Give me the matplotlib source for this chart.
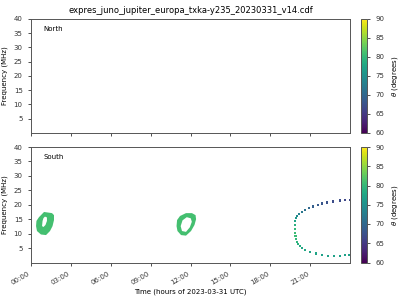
import numpy as np
import matplotlib
matplotlib.use('Agg')
import matplotlib.pyplot as plt
from matplotlib.path import Path
from matplotlib.patches import PathPatch
from matplotlib.colors import Normalize
import matplotlib.cm as cm

title = 'expres_juno_jupiter_europa_txka-y235_20230331_v14.cdf'
tick_hours = [0, 3, 6, 9, 12, 15, 18, 21]
tick_labels = ['00:00', '03:00', '06:00', '09:00', '12:00', '15:00', '18:00', '21:00']
freq_ticks = [5, 10, 15, 20, 25, 30, 35, 40]
cbar_ticks = [60, 65, 70, 75, 80, 85, 90]

#south emission ovals (hours, MHz), outer edge and hole
oval1_outer_t = [0.98, 1.28, 1.58, 1.73, 1.73, 1.62, 1.43, 1.13, 0.75, 0.45, 0.38, 0.41, 0.60, 0.75]
oval1_outer_f = [17.5, 17.3, 17.1, 16.4, 14.7, 12.6, 10.9, 9.5, 9.7, 10.9, 12.6, 14.4, 15.7, 16.4]
oval1_inner_t = [1.05, 1.20, 1.20, 1.09, 0.94, 0.83, 0.87, 0.94]
oval1_inner_f = [15.9, 15.6, 14.4, 13.0, 12.3, 12.6, 14.4, 15.4]
oval2_outer_t = [11.66, 12.11, 12.38, 12.42, 12.30, 12.04, 11.66, 11.29, 11.02, 10.95, 10.99, 11.21]
oval2_outer_f = [17.1, 17.1, 16.4, 15.0, 13.0, 10.9, 9.3, 9.5, 10.9, 12.6, 14.7, 16.1]
oval2_inner_t = [11.72, 12.02, 12.10, 11.95, 11.66, 11.36, 11.26, 11.40]
oval2_inner_f = [15.7, 15.3, 14.1, 12.2, 10.6, 10.9, 12.6, 14.6]
oval_theta = 81.0

#arc at end of day
arc_t = [24.0, 23.63, 23.25, 22.72, 22.27, 21.90, 21.60, 21.22, 20.92, 20.62, 20.39, 20.17, 20.02,
         19.94, 19.86, 19.86, 19.86, 19.86, 19.90, 19.94, 20.02, 20.09, 20.24, 20.39, 20.62, 21.00,
         21.45, 21.90, 22.35, 22.80, 23.25, 23.63, 23.93]
arc_f = [21.7, 21.7, 21.5, 21.1, 20.8, 20.4, 19.9, 19.4, 18.9, 18.2, 17.5, 16.8, 16.1,
         15.4, 14.3, 13.0, 11.6, 10.2, 9.2, 8.1, 7.1, 6.4, 5.7, 5.0, 4.3, 3.6,
         3.1, 2.6, 2.2, 2.2, 2.2, 2.6, 2.7]
arc_theta = [66.5, 66.5, 67, 67, 67.5, 68, 68.5, 69, 70, 71, 72, 73, 74.5,
             76, 77.5, 79, 80, 80.5, 80.5, 80, 79.5, 79, 78.5, 78, 78, 77.5,
             77.5, 77, 77, 77, 77, 77, 77]

norm = Normalize(vmin=60, vmax=90)
cmap = plt.get_cmap('viridis')


#ring shaped patch from an outer and an inner outline
def ring_patch(ot, of, it, inf, color):
    outer = list(zip(ot, of))
    inner = list(zip(it, inf))[::-1]
    verts = outer + [outer[0]] + inner + [inner[0]]
    codes = ([Path.MOVETO] + [Path.LINETO] * (len(outer) - 1) + [Path.CLOSEPOLY]
             + [Path.MOVETO] + [Path.LINETO] * (len(inner) - 1) + [Path.CLOSEPOLY])
    return PathPatch(Path(verts, codes), facecolor=color, edgecolor='none')


fig = plt.figure(figsize=(4, 3), dpi=100)
ax1 = fig.add_axes([0.0775, 0.557, 0.7975, 0.38])
ax2 = fig.add_axes([0.0775, 0.125, 0.7975, 0.385])
cax1 = fig.add_axes([0.9025, 0.557, 0.015, 0.38])
cax2 = fig.add_axes([0.9025, 0.125, 0.015, 0.385])

ax2.add_patch(ring_patch(oval1_outer_t, oval1_outer_f, oval1_inner_t, oval1_inner_f, cmap(norm(oval_theta))))
ax2.add_patch(ring_patch(oval2_outer_t, oval2_outer_f, oval2_inner_t, oval2_inner_f, cmap(norm(oval_theta))))
ax2.scatter(arc_t, arc_f, c=arc_theta, cmap=cmap, norm=norm, marker='s', s=2.5, linewidths=0)

for ax, name in [(ax1, 'North'), (ax2, 'South')]:
    ax.set_xlim(0, 24)
    ax.set_ylim(0, 40)
    ax.set_yticks(freq_ticks)
    ax.set_xticks(tick_hours)
    ax.set_ylabel('Frequency (MHz)', fontsize=5)
    ax.tick_params(labelsize=5, width=0.6, length=2.5, colors='#333333')
    for s in ax.spines.values():
        s.set_linewidth(0.7)
        s.set_color('#555555')
    ax.text(0.038, 0.91, name, transform=ax.transAxes, fontsize=5, va='center')

ax1.set_xticklabels([])
ax2.set_xticklabels(tick_labels, rotation=30, ha='right')
ax2.set_xlabel('Time (hours of 2023-03-31 UTC)', fontsize=5, labelpad=2)
ax1.set_title(title, fontsize=6, pad=4)

for cax in [cax1, cax2]:
    cb = fig.colorbar(cm.ScalarMappable(norm=norm, cmap=cmap), cax=cax, ticks=cbar_ticks)
    cb.set_label(r'$\theta$ (degrees)', fontsize=5)
    cb.ax.tick_params(labelsize=5, width=0.6, length=2.5, colors='#333333')
    cb.outline.set_linewidth(0.7)
    cb.outline.set_edgecolor('#555555')

fig.savefig('out.png', dpi=100)
